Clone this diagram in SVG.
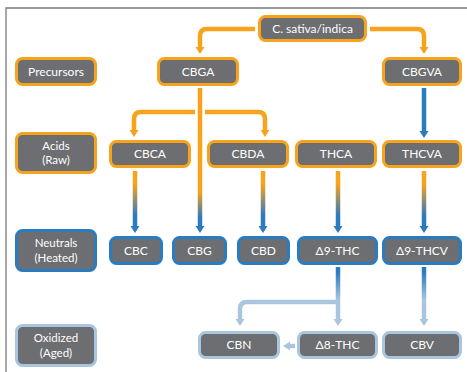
<svg xmlns="http://www.w3.org/2000/svg" width="467" height="372" viewBox="0 0 467 372">
<style>
.n rect{fill:#6d6e71;stroke-width:3}
.o rect{stroke:#f7a31c}
.b rect{stroke:#2b7bbf}
.l rect{stroke:#aac6de}
text{font-family:Lato,"Open Sans","Liberation Sans",sans-serif;font-size:12px;fill:#fff;text-anchor:middle}
.t2{font-size:11.5px}
.c{fill:none;stroke-width:4.5}
.co{stroke:#f7a31c}
.cb{stroke:#2b7bbf}
.cl{stroke:#aac6de}
</style>
<defs>
<marker id="ao" markerUnits="userSpaceOnUse" markerWidth="9" markerHeight="10" refX="0" refY="4.5" orient="auto"><path d="M0,0L7,4.5L0,9z" fill="#f7a31c"/></marker>
<marker id="ab" markerUnits="userSpaceOnUse" markerWidth="9" markerHeight="10" refX="0" refY="4.5" orient="auto"><path d="M0,0L7,4.5L0,9z" fill="#2b7bbf"/></marker>
<marker id="al" markerUnits="userSpaceOnUse" markerWidth="9" markerHeight="10" refX="0" refY="4.5" orient="auto"><path d="M0,0L7,4.5L0,9z" fill="#aac6de"/></marker>
<linearGradient id="g1" gradientUnits="userSpaceOnUse" x1="0" y1="184" x2="0" y2="216"><stop offset="0" stop-color="#f7a31c"/><stop offset="1" stop-color="#2b7bbf"/></linearGradient>
<linearGradient id="g2" gradientUnits="userSpaceOnUse" x1="0" y1="192" x2="0" y2="218"><stop offset="0" stop-color="#f7a31c"/><stop offset="1" stop-color="#2b7bbf"/></linearGradient>
<linearGradient id="g3" gradientUnits="userSpaceOnUse" x1="0" y1="272" x2="0" y2="300"><stop offset="0" stop-color="#2b7bbf"/><stop offset="1" stop-color="#aac6de"/></linearGradient>
</defs>
<rect width="467" height="372" fill="#fff"/>
<path d="M6,372V8H467" fill="none" stroke="#7a7a7a" stroke-width="1.3"/>

<g id="connectors">
<path class="c co" d="M255,29H207Q200,29 200,36V47" marker-end="url(#ao)"/>
<path class="c co" d="M370,29H417Q424,29 424,36V47" marker-end="url(#ao)"/>
<path class="c cb" d="M424,88V131" marker-end="url(#ab)"/>
<path class="c co" d="M200,112H141Q134,112 134,119V130" marker-end="url(#ao)"/>
<path class="c co" d="M200,112H258Q265,112 265,119V130" marker-end="url(#ao)"/>
<path d="M200,104V120" stroke="#fff" stroke-width="10"/>
<path class="c" stroke="url(#g2)" d="M200,88V226" marker-end="url(#ab)"/>
<path class="c" stroke="url(#g1)" d="M135,171V226" marker-end="url(#ab)"/>
<path class="c" stroke="url(#g1)" d="M263,171V226" marker-end="url(#ab)"/>
<path class="c" stroke="url(#g1)" d="M338,171V226" marker-end="url(#ab)"/>
<path class="c" stroke="url(#g1)" d="M424,171V226" marker-end="url(#ab)"/>
<path class="c cl" d="M338,302H247Q240,302 240,309V319" marker-end="url(#al)"/>
<path class="c" stroke="url(#g3)" d="M338,267V319" marker-end="url(#al)"/>
<path class="c" stroke="url(#g3)" d="M424,267V319" marker-end="url(#al)"/>
<path class="c cl" d="M295,346H290" marker-end="url(#al)"/>
</g>

<g id="sativa" class="n o"><rect x="259.5" y="16.5" width="106" height="24" rx="6"/><text x="312.5" y="32.5">C. sativa/indica</text></g>
<g id="precursors" class="n o"><rect x="16.5" y="58.5" width="79" height="26" rx="6"/><text x="56" y="75.5">Precursors</text></g>
<g id="cbga" class="n o"><rect x="158.5" y="58.5" width="79" height="26" rx="6"/><text x="198" y="75.5">CBGA</text></g>
<g id="cbgva" class="n o"><rect x="383.5" y="58.5" width="77" height="26" rx="6"/><text x="422" y="75.5">CBGVA</text></g>

<g id="acids" class="n o"><rect x="16.5" y="133.5" width="79" height="39" rx="6"/><text class="t2" x="56" y="149.5">Acids</text><text class="t2" x="56" y="164">(Raw)</text></g>
<g id="cbca" class="n o"><rect x="110.5" y="141.5" width="79" height="25" rx="6"/><text x="150" y="158">CBCA</text></g>
<g id="cbda" class="n o"><rect x="208.5" y="141.5" width="79" height="25" rx="6"/><text x="248" y="158">CBDA</text></g>
<g id="thca" class="n o"><rect x="296.5" y="141.5" width="79" height="25" rx="6"/><text x="336" y="158">THCA</text></g>
<g id="thcva" class="n o"><rect x="383.5" y="141.5" width="77" height="25" rx="6"/><text x="422" y="158">THCVA</text></g>

<g id="neutrals" class="n b"><rect x="16.5" y="230.5" width="79" height="40" rx="6"/><text class="t2" x="56" y="247">Neutrals</text><text class="t2" x="56" y="261.5">(Heated)</text></g>
<g id="cbc" class="n b"><rect x="110.5" y="237.5" width="51" height="26" rx="6"/><text x="136" y="254.5">CBC</text></g>
<g id="cbg" class="n b"><rect x="173.5" y="237.5" width="52" height="26" rx="6"/><text x="199.5" y="254.5">CBG</text></g>
<g id="cbd" class="n b"><rect x="238.5" y="237.5" width="50" height="26" rx="6"/><text x="263.5" y="254.5">CBD</text></g>
<g id="d9thc" class="n b"><rect x="298.5" y="237.5" width="78" height="26" rx="6"/><text x="337.5" y="254.5">Δ9-THC</text></g>
<g id="d9thcv" class="n b"><rect x="383.5" y="237.5" width="77" height="26" rx="6"/><text x="422" y="254.5">Δ9-THCV</text></g>

<g id="oxidized" class="n l"><rect x="16.5" y="325.5" width="79" height="40" rx="6"/><text class="t2" x="56" y="342">Oxidized</text><text class="t2" x="56" y="356.5">(Aged)</text></g>
<g id="cbn" class="n l"><rect x="199.5" y="332.5" width="79" height="25" rx="6"/><text x="239" y="349">CBN</text></g>
<g id="d8thc" class="n l"><rect x="298.5" y="332.5" width="78" height="25" rx="6"/><text x="337.5" y="349">Δ8-THC</text></g>
<g id="cbv" class="n l"><rect x="383.5" y="332.5" width="77" height="25" rx="6"/><text x="422" y="349">CBV</text></g>
</svg>
